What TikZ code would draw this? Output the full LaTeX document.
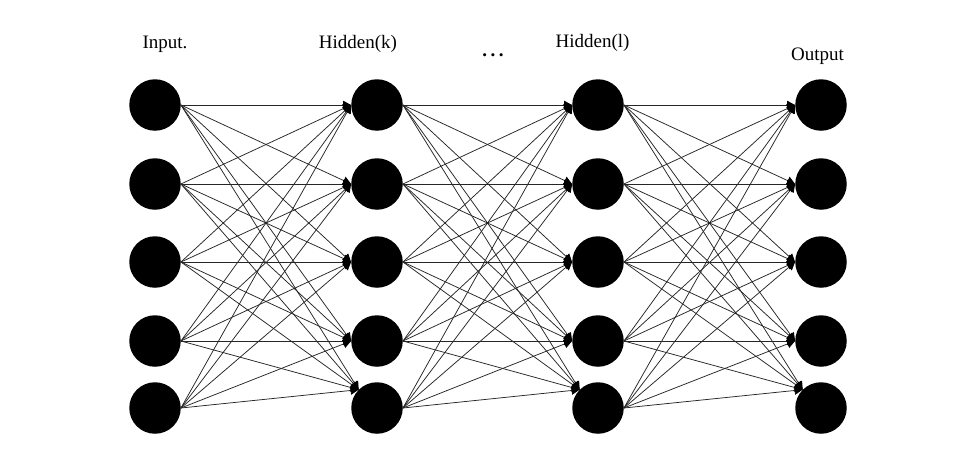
\documentclass[tikz,border=0pt]{standalone}
\usepackage{fontspec}
\setmainfont{Liberation Serif}
\usetikzlibrary{arrows.meta}
\begin{document}
\begin{tikzpicture}[x=1pt,y=-1pt,
  neuron/.style={circle,fill=black,draw=none,minimum size=51.5pt,inner sep=0pt},
  lbl/.style={font=\fontsize{19}{22}\selectfont,inner sep=0pt},
  conn/.style={draw=black!85,line width=0.75pt,-{Triangle[length=8pt,width=8.5pt,fill=black,color=black]}}]
\useasboundingbox (0,0) rectangle (980,471);
\fill[white] (0,0) rectangle (980,471);
% columns
\foreach \c/\x in {1/155,2/377,3/598,4/821}{
  \foreach \r/\y in {1/105,2/184,3/262,4/341,5/408}{
    \node[neuron] (n\c\r) at (\x,\y) {};
  }
}
% labels
\node[lbl] (lin) at (165,44) {Input.};
\node[lbl] (lhk) at (358,44) {Hidden(k)};
\node[lbl] (ldots) at (493,55) {\textbf{.\hspace{3.5pt}.\hspace{3.5pt}.}};
\node[lbl] (lhl) at (592.5,43) {Hidden(l)};
\node[lbl] (lout) at (817.5,56) {Output};
% connections
\foreach \c/\d in {1/2,2/3,3/4}{
  \foreach \s in {1,...,5}{
    \foreach \t in {1,2,3,4}{
      \draw[conn] (n\c\s.east) -- (n\d\t.west);
    }
    \draw[conn] (n\c\s.east) -- (n\d5.north west);
  }
}
\end{tikzpicture}
\end{document}
